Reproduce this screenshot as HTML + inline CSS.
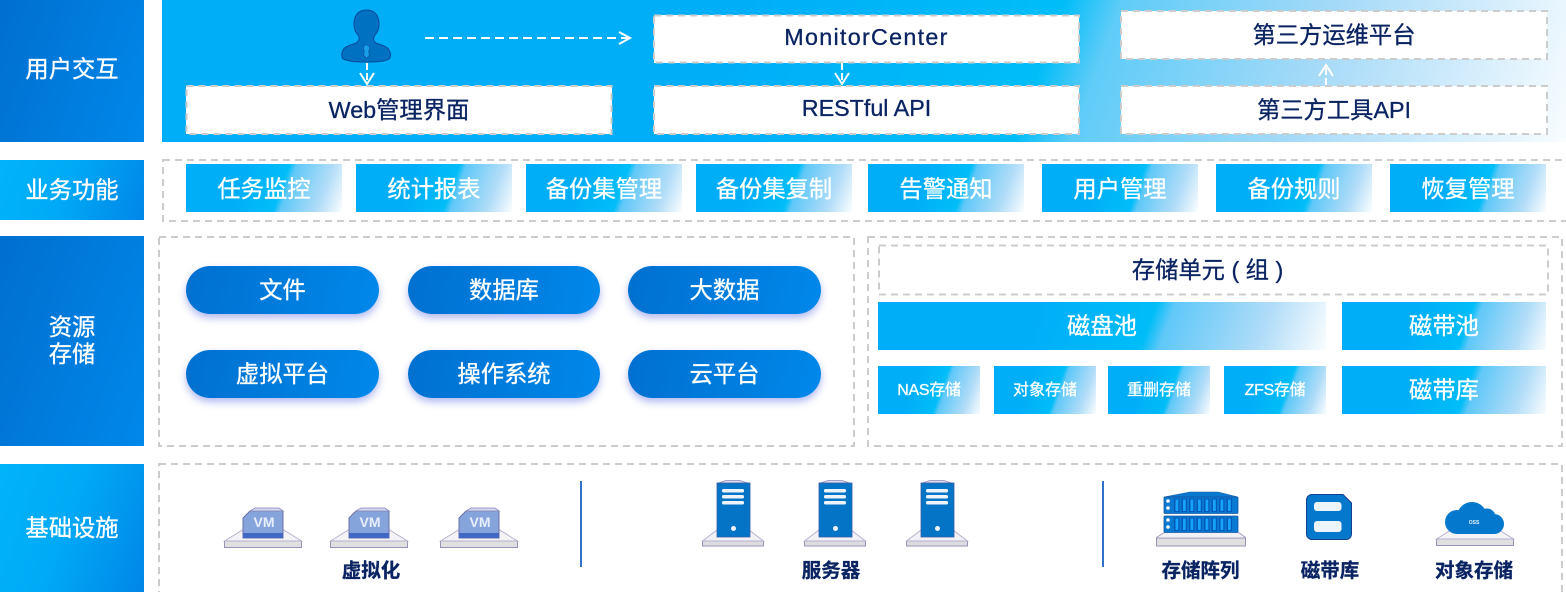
<!DOCTYPE html>
<html lang="zh">
<head>
<meta charset="utf-8">
<style>
html,body{margin:0;padding:0;background:#fff}
#p{position:relative;width:1566px;height:592px;overflow:hidden;background:#fff;font-family:"Liberation Sans","Noto Sans CJK SC",sans-serif}
#p>div{position:absolute;display:flex;align-items:center;justify-content:center;text-align:center;box-sizing:border-box;padding-bottom:4px;-webkit-text-stroke:.3px}
.d{background:linear-gradient(110deg,#006fcf,#0088ea);color:#fff;font-size:23.3px;line-height:27px}
.l{background:linear-gradient(110deg,#00b4fa 0%,#00aaf6 45%,#0086e8 100%);color:#fff;font-size:23.3px}
.g{background:linear-gradient(110deg,#00aef8 0%,#00aef8 35%,#00bdf8 60%,#60c8f8 64%,#b0dcf8 85%,#fff 101%);color:#fff;font-size:23.3px;height:48px}
.w{background:#fff;color:#0a2463;font-size:23.3px}
.t{color:#0a2463;font-size:23.3px}
.p{background:linear-gradient(100deg,#0070d0,#0088ea);color:#fff;font-size:23.3px;height:48px;border-radius:24px;box-shadow:0 4px 8px rgba(60,80,220,.4)}
.s{font-size:16px}
svg{position:absolute;left:0;top:0}
</style>
</head>
<body>
<div id="p">
<div class="d" style="left:0;top:0;width:144px;height:142px">用户交互</div>
<div class="l" style="left:0;top:160px;width:144px;height:60px">业务功能</div>
<div class="d" style="left:0;top:236px;width:144px;height:210px;padding-bottom:1px">资源<br>存储</div>
<div class="l" style="left:0;top:464px;width:144px;height:128px">基础设施</div>

<div style="left:162px;top:0;width:1404px;height:142px;background:linear-gradient(110deg,#00aef8 0%,#00aef8 40%,#00bdf8 62%,#60ccf8 66%,#a5daf8 81%,#f8fcff 100%)"></div>
<div class="w" style="left:186px;top:86px;width:426px;height:48px">Web管理界面</div>
<div class="w" style="left:654px;top:15px;width:425px;height:48px;letter-spacing:1.3px">MonitorCenter</div>
<div class="w" style="left:654px;top:86px;width:425px;height:48px">RESTful API</div>
<div class="w" style="left:1121px;top:11px;width:426px;height:48px">第三方运维平台</div>
<div class="w" style="left:1121px;top:86px;width:426px;height:48px">第三方工具API</div>

<div class="g" style="left:186px;top:164px;width:156px;padding-bottom:3px">任务监控</div>
<div class="g" style="left:356px;top:164px;width:156px;padding-bottom:3px">统计报表</div>
<div class="g" style="left:526px;top:164px;width:156px;padding-bottom:3px">备份集管理</div>
<div class="g" style="left:696px;top:164px;width:156px;padding-bottom:3px">备份集复制</div>
<div class="g" style="left:868px;top:164px;width:156px;padding-bottom:3px">告警通知</div>
<div class="g" style="left:1042px;top:164px;width:156px;padding-bottom:3px">用户管理</div>
<div class="g" style="left:1216px;top:164px;width:156px;padding-bottom:3px">备份规则</div>
<div class="g" style="left:1390px;top:164px;width:156px;padding-bottom:3px">恢复管理</div>

<div class="p" style="left:186px;top:266px;width:193px">文件</div>
<div class="p" style="left:408px;top:266px;width:192px">数据库</div>
<div class="p" style="left:628px;top:266px;width:193px">大数据</div>
<div class="p" style="left:186px;top:350px;width:193px">虚拟平台</div>
<div class="p" style="left:408px;top:350px;width:192px">操作系统</div>
<div class="p" style="left:628px;top:350px;width:193px">云平台</div>

<div class="t" style="left:873px;top:246px;width:669px;height:48px">存储单元 ( 组 )</div>
<div class="g" style="left:878px;top:302px;width:448px">磁盘池</div>
<div class="g" style="left:1342px;top:302px;width:204px">磁带池</div>
<div class="g s" style="left:878px;top:366px;width:102px;letter-spacing:-.3px">NAS存储</div>
<div class="g s" style="left:994px;top:366px;width:102px">对象存储</div>
<div class="g s" style="left:1108px;top:366px;width:102px">重删存储</div>
<div class="g s" style="left:1224px;top:366px;width:102px;letter-spacing:-.3px">ZFS存储</div>
<div class="g" style="left:1342px;top:366px;width:204px">磁带库</div>

<svg width="1566" height="592" viewBox="0 0 1566 592" font-family="'Liberation Sans','Noto Sans CJK SC',sans-serif">
<g fill="none" stroke="#cccccc" stroke-width="2" stroke-dasharray="7 5">
<rect x="186.500" y="86" width="425" height="48"/>
<rect x="654" y="15.500" width="425" height="47"/>
<rect x="654" y="86" width="425" height="48"/>
<rect x="1121" y="11" width="426" height="48"/>
<rect x="1121" y="86" width="426" height="48"/>
<rect x="163" y="160" width="1410" height="61"/>
<rect x="159" y="237" width="695" height="209"/>
<rect x="868" y="237" width="694" height="209"/>
<rect x="879" y="245.500" width="669" height="49"/>
<rect x="159" y="464" width="1403" height="140"/>
</g>
<!-- connectors -->
<g fill="none" stroke="#fff" stroke-width="2">
<path d="M425 38H628" stroke-dasharray="9 5"/>
<path d="M619 32l11 6-11 6"/>
<path d="M367 63V84" stroke-dasharray="7 3"/>
<path d="M360 73l7 11 7-11"/>
<path d="M842 63V84" stroke-dasharray="7 3"/>
<path d="M835 73l7 11 7-11"/>
<path d="M1326 85V65" stroke-dasharray="7 3"/>
<path d="M1319 76l7-11 7 11"/>
</g>
<!-- person -->
<path d="M366.500 10C358 10 354 16 354 24C354 30 356 33 358 35C360 38 359 41 356 43C352 45 345 46 343 50C341 53 342 58 343 59C350 62 358 62 366 62C375 62 383 62 389 59C391 57 391 53 389 50C387 46 380 45 376 43C373 41 373 38 375 35C377 33 379 30 379 24C379 16 375 10 366.500 10Z" fill="#0070c0" stroke="#0a4a9a" stroke-width="1"/>
<path d="M366.500 45c-2 0-3 1-3 3 0 2 .8 3 .8 4l-.8 3 3 3.500 3-3.500-.8-3c0-1 .8-2 .8-4 0-2-1-3-3-3z" fill="#18a0ea" stroke="#0a5aa8" stroke-width=".8"/>

<line x1="581" y1="481" x2="581" y2="567" stroke="#3070c8" stroke-width="2"/>
<line x1="1103" y1="481" x2="1103" y2="567" stroke="#3070c8" stroke-width="2"/>

<defs>
<g id="base78">
<path d="M0.500 541H77.500V547.500H0.500Z" fill="#e0e0e0" stroke="#9a90b8"/>
<path d="M0.500 541L20 529H58L77.500 541Z" fill="#f4f4f6" stroke="#b8b0d0"/>
</g>
<g id="vm">
<use href="#base78"/>
<path d="M19 518L26 511H59V538H19Z" fill="#86a4dc" stroke="#6a70a8"/>
<path d="M26 511L31 508H55L59 511Z" fill="#cfd8ee" stroke="#8a88b8" stroke-width=".8"/>
<rect x="19" y="533" width="40" height="5" fill="#4068c4"/>
</g>
<g id="srv">
<path d="M0.500 541H61.500V546H0.500Z" fill="#dcdce0" stroke="#9a90b8"/>
<path d="M0.500 541L15 530H47L61.500 541Z" fill="#f2f2f6" stroke="#b8b0d0"/>
<path d="M15 483.500l9-3h14l9 3z" fill="#dcdcec" stroke="#8a88b8" stroke-width=".8"/>
<rect x="15" y="483" width="33" height="54" fill="#0474c6" stroke="#3a5ea8" stroke-width=".8"/>
<g fill="#eef4fb">
<rect x="20" y="489" width="22" height="3.500" rx="1.500"/>
<rect x="20" y="495" width="22" height="3.500" rx="1.500"/>
<rect x="20" y="501" width="22" height="3.500" rx="1.500"/>
<circle cx="31.500" cy="528.500" r="2.500"/>
</g>
</g>
<g id="rack">
<rect x="5" y="0" width="74" height="16.500" rx="1" fill="#0878d0" stroke="#185aa0" stroke-width=".8"/>
<g fill="#0458b8">
<rect x="15" y="1.500" width="5.500" height="13.500"/><rect x="22.500" y="1.500" width="5.500" height="13.500"/><rect x="30" y="1.500" width="5.500" height="13.500"/><rect x="37.500" y="1.500" width="5.500" height="13.500"/><rect x="45" y="1.500" width="5.500" height="13.500"/><rect x="52.500" y="1.500" width="5.500" height="13.500"/><rect x="60" y="1.500" width="5.500" height="13.500"/><rect x="67.500" y="1.500" width="5.500" height="13.500"/>
</g>
<g fill="#14a4fa">
<rect x="16.500" y="2.500" width="2.800" height="11.500"/><rect x="24" y="2.500" width="2.800" height="11.500"/><rect x="31.500" y="2.500" width="2.800" height="11.500"/><rect x="39" y="2.500" width="2.800" height="11.500"/><rect x="46.500" y="2.500" width="2.800" height="11.500"/><rect x="54" y="2.500" width="2.800" height="11.500"/><rect x="61.500" y="2.500" width="2.800" height="11.500"/><rect x="69" y="2.500" width="2.800" height="11.500"/>
</g>
<circle cx="9" cy="4" r="1.800" fill="#fff"/><circle cx="9" cy="11" r="1.800" fill="#fff"/>
</g>
</defs>

<g transform="translate(224,0)"><use href="#vm"/></g>
<g transform="translate(330,0)"><use href="#vm"/></g>
<g transform="translate(440,0)"><use href="#vm"/></g>
<g fill="#e8eefa" font-size="14" font-weight="700" text-anchor="middle" font-family="'Liberation Sans',sans-serif">
<text x="264" y="527">VM</text><text x="370" y="527">VM</text><text x="480" y="527">VM</text>
</g>

<g transform="translate(702,0)"><use href="#srv"/></g>
<g transform="translate(804,0)"><use href="#srv"/></g>
<g transform="translate(906,0)"><use href="#srv"/></g>

<!-- storage array -->
<path d="M1156.500 538H1245.500V546H1156.500Z" fill="#e0e0e0" stroke="#9a90b8"/>
<path d="M1156.500 537.500L1165 532H1238L1245.500 537.500V538H1156.500Z" fill="#f2f2f6" stroke="#9a90b8" stroke-width=".8"/>
<path d="M1164 497L1190 492H1218L1238 497Z" fill="#0878d0" stroke="#185aa0" stroke-width=".6"/>
<g transform="translate(1159,497)"><use href="#rack"/></g>
<g transform="translate(1159,516)"><use href="#rack"/></g>

<!-- tape -->
<path d="M1312 494.500H1343L1351.500 503V534a5.500 5.500 0 0 1-5.500 5.500H1312a5.500 5.500 0 0 1-5.500-5.500V500a5.500 5.500 0 0 1 5.500-5.500z" fill="#0478cc" stroke="#15408e" stroke-width="1"/>
<rect x="1314" y="502" width="27.500" height="9" rx="3" fill="#eef4fb"/>
<rect x="1314" y="521" width="27.500" height="11" rx="3" fill="#eef4fb"/>

<!-- cloud -->
<use href="#base78" transform="translate(1436,-2)"/>
<g fill="#0478cc">
<circle cx="1457" cy="522" r="12"/>
<circle cx="1472" cy="517" r="15"/>
<circle cx="1487" cy="517" r="8.500"/>
<circle cx="1494" cy="524" r="10"/>
<rect x="1457" y="520" width="37" height="14"/>
</g>
<text x="1474" y="524" font-size="5" fill="#e8f2fb" text-anchor="middle" font-weight="700">OSS</text>

<g fill="#0a2463" font-size="19.500" font-weight="700" text-anchor="middle" stroke="#0a2463" stroke-width=".3">
<text x="371" y="577">虚拟化</text>
<text x="831" y="577">服务器</text>
<text x="1200.500" y="577">存储阵列</text>
<text x="1330" y="577">磁带库</text>
<text x="1474" y="577">对象存储</text>
</g>
</svg>
</div>
</body>
</html>
